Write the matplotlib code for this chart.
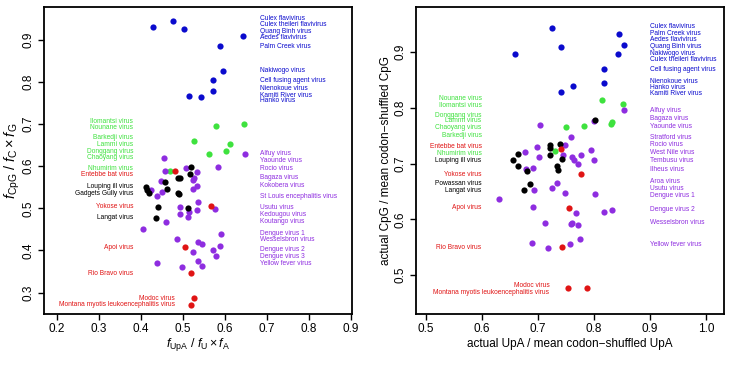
import matplotlib
matplotlib.use("Agg")
import matplotlib.pyplot as plt

plt.rcParams['font.family'] = ['Liberation Sans', 'DejaVu Sans']
plt.rcParams['mathtext.fontset'] = 'custom'
plt.rcParams['mathtext.rm'] = 'Liberation Sans'
plt.rcParams['mathtext.it'] = 'Liberation Sans:italic'

COL = {'blue': '#0a0acd', 'green': '#3ee23e', 'red': '#e01414', 'black': '#000000', 'purple': '#8e2de0'}

# ---------------- Left panel data: f_UpA/(fU*fA) vs f_CpG/(fC*fG) ----------------
left_blue_x = [0.429, 0.475, 0.503, 0.643, 0.589, 0.594, 0.571, 0.572, 0.514, 0.543]
left_blue_y = [0.930, 0.945, 0.925, 0.909, 0.885, 0.827, 0.804, 0.779, 0.767, 0.765]
left_green_x = [0.579, 0.644, 0.527, 0.612, 0.603, 0.561, 0.469]
left_green_y = [0.696, 0.701, 0.659, 0.652, 0.635, 0.628, 0.589]
left_red_x = [0.481, 0.566, 0.505, 0.519, 0.527, 0.518]
left_red_y = [0.588, 0.506, 0.408, 0.347, 0.286, 0.271]
left_black_x = [0.520, 0.517, 0.489, 0.493, 0.456, 0.461, 0.412, 0.415, 0.420, 0.487, 0.490, 0.440, 0.512, 0.436]
left_black_y = [0.598, 0.582, 0.573, 0.573, 0.562, 0.545, 0.550, 0.544, 0.536, 0.536, 0.535, 0.503, 0.500, 0.478]
left_purple_x = [0.454, 0.456, 0.507, 0.534, 0.527, 0.523, 0.584, 0.648, 0.447, 0.423,
                 0.451, 0.437, 0.532, 0.523, 0.536, 0.492, 0.514, 0.532, 0.493, 0.512,
                 0.575, 0.459, 0.405, 0.485, 0.590, 0.536, 0.544, 0.524, 0.589, 0.572,
                 0.579, 0.536, 0.545, 0.497, 0.438]
left_purple_y = [0.619, 0.588, 0.596, 0.586, 0.572, 0.568, 0.599, 0.628, 0.565, 0.544,
                 0.539, 0.530, 0.554, 0.545, 0.514, 0.503, 0.492, 0.495, 0.486, 0.479,
                 0.499, 0.468, 0.450, 0.427, 0.439, 0.419, 0.415, 0.396, 0.411, 0.400,
                 0.387, 0.374, 0.363, 0.361, 0.369]

left_right_labels = ["Culex flavivirus", "Culex theileri flavivirus", "Quang Binh virus", "Aedes flavivirus",
                     "Palm Creek virus", "Nakiwogo virus", "Cell fusing agent virus", "Nienokoue virus",
                     "Kamiti River virus", "Hanko virus",
                     "Alfuy virus", "Yaounde virus", "Rocio virus", "Bagaza virus", "Kokobera virus",
                     "St Louis encephalitis virus", "Usutu virus", "Kedougou virus", "Koutango virus",
                     "Dengue virus 1", "Wesselsbron virus", "Dengue virus 2", "Dengue virus 3", "Yellow fever virus"]
left_right_label_y = [0.950, 0.936, 0.920, 0.905, 0.885, 0.827, 0.804, 0.784, 0.769, 0.755,
                      0.629, 0.614, 0.595, 0.573, 0.553, 0.529, 0.501, 0.485, 0.468,
                      0.441, 0.427, 0.401, 0.385, 0.368]
left_right_label_grp = ['blue'] * 10 + ['purple'] * 14
left_left_labels = ["Ilomantsi virus", "Nounane virus", "Barkedji virus", "Lammi virus", "Donggang virus",
                    "Chaoyang virus", "Nhumirim virus", "Entebbe bat virus", "Louping ill virus",
                    "Gadgets Gully virus", "Yokose virus", "Langat virus", "Apoi virus", "Rio Bravo virus"]
left_left_label_y = [0.707, 0.693, 0.667, 0.651, 0.636, 0.620, 0.595, 0.581, 0.551, 0.535,
                     0.505, 0.477, 0.408, 0.346]
left_left_label_grp = ['green'] * 7 + ['red', 'black', 'black', 'red', 'black', 'red', 'red']
left_mid_labels = ["Modoc virus", "Montana myotis leukoencephalitis virus"]
left_mid_label_y = [0.286, 0.271]

# ---------------- Right panel data: actual/mean codon-shuffled ----------------
right_blue_x = [0.724, 0.845, 0.854, 0.741, 0.659, 0.843, 0.817, 0.818, 0.762, 0.741]
right_blue_y = [0.943, 0.932, 0.913, 0.910, 0.897, 0.897, 0.869, 0.845, 0.840, 0.829]
right_green_x = [0.814, 0.852, 0.832, 0.830, 0.782, 0.749, 0.730]
right_green_y = [0.814, 0.807, 0.774, 0.771, 0.767, 0.765, 0.723]
right_red_x = [0.741, 0.777, 0.755, 0.742, 0.788, 0.753]
right_red_y = [0.727, 0.682, 0.621, 0.550, 0.476, 0.476]
right_black_x = [0.802, 0.721, 0.722, 0.739, 0.665, 0.721, 0.655, 0.742, 0.665, 0.733, 0.735, 0.680, 0.685, 0.674]
right_black_y = [0.778, 0.733, 0.728, 0.735, 0.718, 0.716, 0.707, 0.709, 0.696, 0.695, 0.688, 0.686, 0.664, 0.653]
right_purple_x = [0.853, 0.704, 0.799, 0.759, 0.698, 0.748, 0.677, 0.702, 0.745, 0.761,
                  0.764, 0.777, 0.795, 0.799, 0.772, 0.679, 0.691, 0.693, 0.725, 0.734,
                  0.631, 0.748, 0.802, 0.691, 0.767, 0.817, 0.832, 0.713, 0.758, 0.761,
                  0.771, 0.774, 0.689, 0.757, 0.717]
right_purple_y = [0.796, 0.770, 0.777, 0.747, 0.730, 0.734, 0.720, 0.711, 0.715, 0.712,
                  0.707, 0.715, 0.724, 0.706, 0.699, 0.691, 0.692, 0.653, 0.656, 0.665,
                  0.636, 0.648, 0.645, 0.622, 0.612, 0.613, 0.617, 0.594, 0.592, 0.594,
                  0.589, 0.564, 0.557, 0.555, 0.548]

right_right_labels = ["Culex flavivirus", "Palm Creek virus", "Aedes flavivirus", "Quang Binh virus",
                      "Nakiwogo virus", "Culex theileri flavivirus", "Cell fusing agent virus",
                      "Nienokoue virus", "Hanko virus", "Kamiti River virus",
                      "Alfuy virus", "Bagaza virus", "Yaounde virus", "Stratford virus", "Rocio virus",
                      "West Nile virus", "Tembusu virus", "Ilheus virus", "Aroa virus", "Usutu virus",
                      "Dengue virus 1", "Dengue virus 2", "Wesselsbron virus", "Yellow fever virus"]
right_right_label_y = [0.946, 0.934, 0.923, 0.910, 0.898, 0.886, 0.868, 0.848, 0.837, 0.825,
                       0.796, 0.780, 0.767, 0.747, 0.734, 0.720, 0.706, 0.690, 0.667, 0.655,
                       0.643, 0.618, 0.594, 0.555]
right_right_label_grp = ['blue'] * 10 + ['purple'] * 14
right_left_labels = ["Nounane virus", "Ilomantsi virus", "Donggang virus", "Lammi virus", "Chaoyang virus",
                     "Barkedji virus", "Entebbe bat virus", "Nhumirim virus", "Louping ill virus",
                     "Yokose virus", "Powassan virus", "Langat virus", "Apoi virus", "Rio Bravo virus"]
right_left_label_y = [0.816, 0.804, 0.787, 0.777, 0.765, 0.751, 0.731, 0.718, 0.706,
                      0.681, 0.664, 0.652, 0.621, 0.550]
right_left_label_grp = ['green'] * 6 + ['red', 'green', 'black', 'red', 'black', 'black', 'red', 'red']
right_mid_labels = ["Modoc virus", "Montana myotis leukoencephalitis virus"]
right_mid_label_y = [0.482, 0.469]

fig = plt.figure(figsize=(7.30, 3.66), dpi=100)
axL = fig.add_axes([44 / 730, 1 - 314 / 366, 308 / 730, 307 / 366])
axR = fig.add_axes([416 / 730, 1 - 314 / 366, 308 / 730, 307 / 366])

MS = 20
LFS = 4.8


def draw(ax, groups):
    for name, xs, ys in groups:
        ax.scatter(xs, ys, s=MS, color=COL[name], linewidths=0, zorder=3)


draw(axL, [('blue', left_blue_x, left_blue_y), ('green', left_green_x, left_green_y),
           ('purple', left_purple_x, left_purple_y), ('black', left_black_x, left_black_y),
           ('red', left_red_x, left_red_y)])
draw(axR, [('blue', right_blue_x, right_blue_y), ('green', right_green_x, right_green_y),
           ('purple', right_purple_x, right_purple_y), ('black', right_black_x, right_black_y),
           ('red', right_red_x, right_red_y)])


def labels(ax, texts, ys, grps, x, ha):
    for t, y, g in zip(texts, ys, grps):
        ax.text(x, y, t, color=COL[g], fontsize=LFS, ha=ha, va='center')


labels(axL, left_right_labels, left_right_label_y, left_right_label_grp, 0.683, 'left')
labels(axL, left_left_labels, left_left_label_y, left_left_label_grp, 0.381, 'right')
labels(axL, left_mid_labels, left_mid_label_y, ['red', 'red'], 0.481, 'right')
labels(axR, right_right_labels, right_right_label_y, right_right_label_grp, 0.900, 'left')
labels(axR, right_left_labels, right_left_label_y, right_left_label_grp, 0.599, 'right')
labels(axR, right_mid_labels, right_mid_label_y, ['red', 'red'], 0.720, 'right')

axL.set_xlim(0.169, 0.902)
axL.set_ylim(0.249, 0.978)
axL.set_xticks([0.2, 0.3, 0.4, 0.5, 0.6, 0.7, 0.8, 0.9])
axL.set_yticks([0.3, 0.4, 0.5, 0.6, 0.7, 0.8, 0.9])
axR.set_xlim(0.482, 1.032)
axR.set_ylim(0.430, 0.981)
axR.set_xticks([0.5, 0.6, 0.7, 0.8, 0.9, 1.0])
axR.set_yticks([0.5, 0.6, 0.7, 0.8, 0.9])

for ax in (axL, axR):
    for sp in ax.spines.values():
        sp.set_linewidth(1.3)
    ax.tick_params(direction='out', length=4.5, width=1.0, labelsize=8.5, pad=2)
    ax.set_xticklabels([f"{v:.1f}" for v in ax.get_xticks()])
    ax.set_yticklabels([f"{v:.1f}" for v in ax.get_yticks()], rotation=90, va='center')

axL.set_xlabel(r'$f_{\mathrm{UpA}}\ /\ f_{\mathrm{U}} \times f_{\mathrm{A}}$', fontsize=9, labelpad=1)
axL.set_ylabel(r'$f_{\mathrm{CpG}}\ /\ f_{\mathrm{C}} \times f_{\mathrm{G}}$', fontsize=10.5, labelpad=1)
axR.set_xlabel('actual UpA / mean codon\u2212shuffled UpA', fontsize=8.5, labelpad=2)
axR.set_ylabel('actual CpG / mean codon\u2212shuffled CpG', fontsize=8.5, labelpad=2)

fig.savefig('out.png', dpi=100)
